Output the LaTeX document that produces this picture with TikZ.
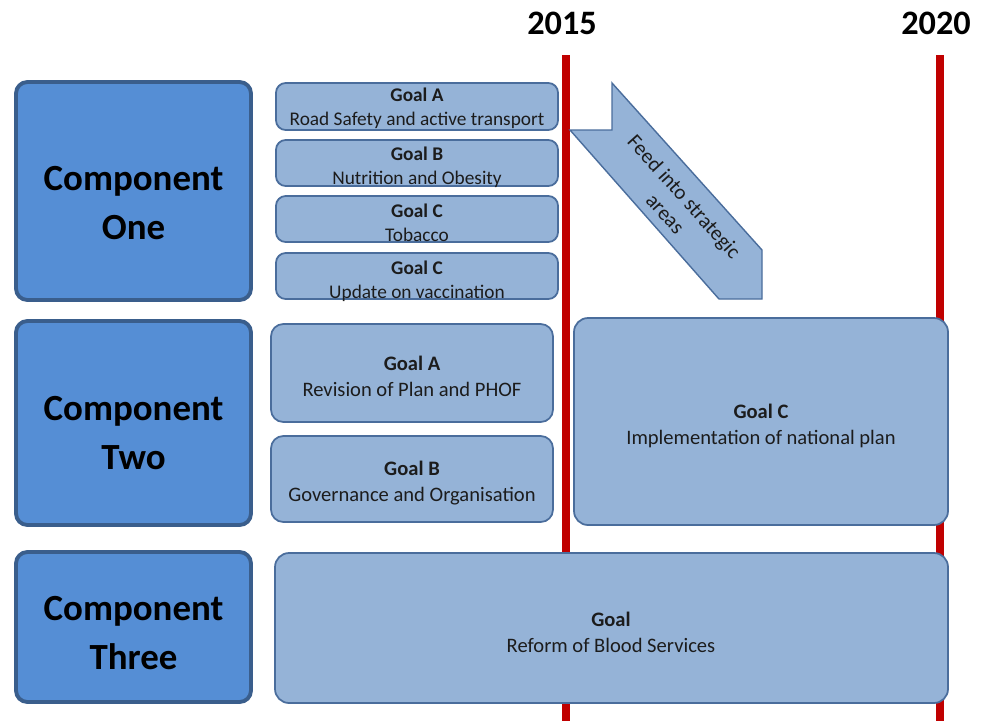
\documentclass[tikz,border=0pt]{standalone}
\usepackage{fontspec}
\setmainfont{Carlito}
\usetikzlibrary{fit}

\definecolor{compfill}{HTML}{558ED5}
\definecolor{compline}{HTML}{3A5E8C}
\definecolor{goalfill}{HTML}{95B3D7}
\definecolor{goalline}{HTML}{4A6D9C}
\definecolor{goaltxt}{HTML}{1C1C1C}
\definecolor{yearred}{HTML}{C00000}

\begin{document}
\begin{tikzpicture}[x=0.02cm, y=-0.02cm,
	compbox/.style={draw=compline, fill=compfill, line width=2.2pt, rounded corners=6.5pt, inner sep=0pt},
	comptext/.style={align=center, font=\fontsize{21}{27.5}\selectfont\bfseries},
	goalbox/.style={draw=goalline, fill=goalfill, line width=1pt, rounded corners=5.5pt, inner sep=0pt},
	bigbox/.style={goalbox, rounded corners=8pt},
	goaltext/.style={align=center, text=goaltxt, font=\fontsize{11}{13.5}\selectfont},
	bigtext/.style={goaltext, font=\fontsize{11.7}{14.7}\selectfont},
	yearlbl/.style={font=\fontsize{19.5}{20}\selectfont\bfseries},
	yearline/.style={draw=yearred, line width=4.5pt}
]
	\useasboundingbox (0,0) rectangle (984,721);

	% Jahresmarken
	\node[yearlbl] (y15) at (562,23) {2015};
	\node[yearlbl] (y20) at (936,23) {2020};
	\coordinate (t15) at (566,55);
	\coordinate (b15) at (566,721);
	\coordinate (t20) at (940,55);
	\coordinate (b20) at (940,721);
	\draw[yearline] (t15) -- (b15);
	\draw[yearline] (t20) -- (b20);

	% Komponenten links
	\node[compbox, fit={(16,82) (251,300)}] (comp1) {};
	\node[compbox, fit={(16,321) (251,525)}] (comp2) {};
	\node[compbox, fit={(16,552) (251,702)}] (comp3) {};
	\node[comptext] (c1) at (133.5,203) {Component\\One};
	\node[comptext] (c2) at (133.5,433) {Component\\Two};
	\node[comptext] (c3) at (133.5,633) {Component\\Three};

	% Ziele zu Komponente eins
	\node[goalbox, fit={(276,83) (558,130)}] (g1a) {};
	\node[goalbox, fit={(276,140) (558,186)}] (g1b) {};
	\node[goalbox, fit={(276,196) (558,242)}] (g1c) {};
	\node[goalbox, fit={(276,253) (558,299)}] (g1d) {};
	\node[goaltext] (t1a) at (417,108) {\textbf{Goal A}\\Road Safety and active transport};
	\node[goaltext] (t1b) at (417,167) {\textbf{Goal B}\\Nutrition and Obesity};
	\node[goaltext] (t1c) at (417,223) {\textbf{Goal C}\\Tobacco};
	\node[goaltext] (t1d) at (417,281) {\textbf{Goal C}\\Update on vaccination};

	% Pfeil
	\draw[goalline, fill=goalfill, line width=0.8pt, line join=miter]
		(570,130) -- (612,130) -- (612,83) -- (762,250) -- (762,299) -- (719,299) -- cycle;
	\node[goaltext, font=\fontsize{12}{14.5}\selectfont, rotate=-48] (feed) at (675,205)
		{Feed into strategic\\areas};

	% Ziele zu Komponente zwei
	\node[bigbox, rounded corners=7pt, fit={(271,324) (553,422)}] (g2a) {};
	\node[bigbox, rounded corners=7pt, fit={(271,436) (553,522)}] (g2b) {};
	\node[bigbox, fit={(574,318) (948,525)}] (g2c) {};
	\node[bigtext] (t2a) at (412,376) {\textbf{Goal A}\\Revision of Plan and PHOF};
	\node[bigtext] (t2b) at (412,483) {\textbf{Goal B}\\Governance and Organisation};
	\node[bigtext] (t2c) at (761,426) {\textbf{Goal C}\\Implementation of national plan};

	% Ziel zu Komponente drei
	\node[bigbox, fit={(275,553) (948,703)}] (g3) {};
	\node[bigtext] (t3) at (611,632) {\textbf{Goal}\\Reform of Blood Services};
\end{tikzpicture}
\end{document}
